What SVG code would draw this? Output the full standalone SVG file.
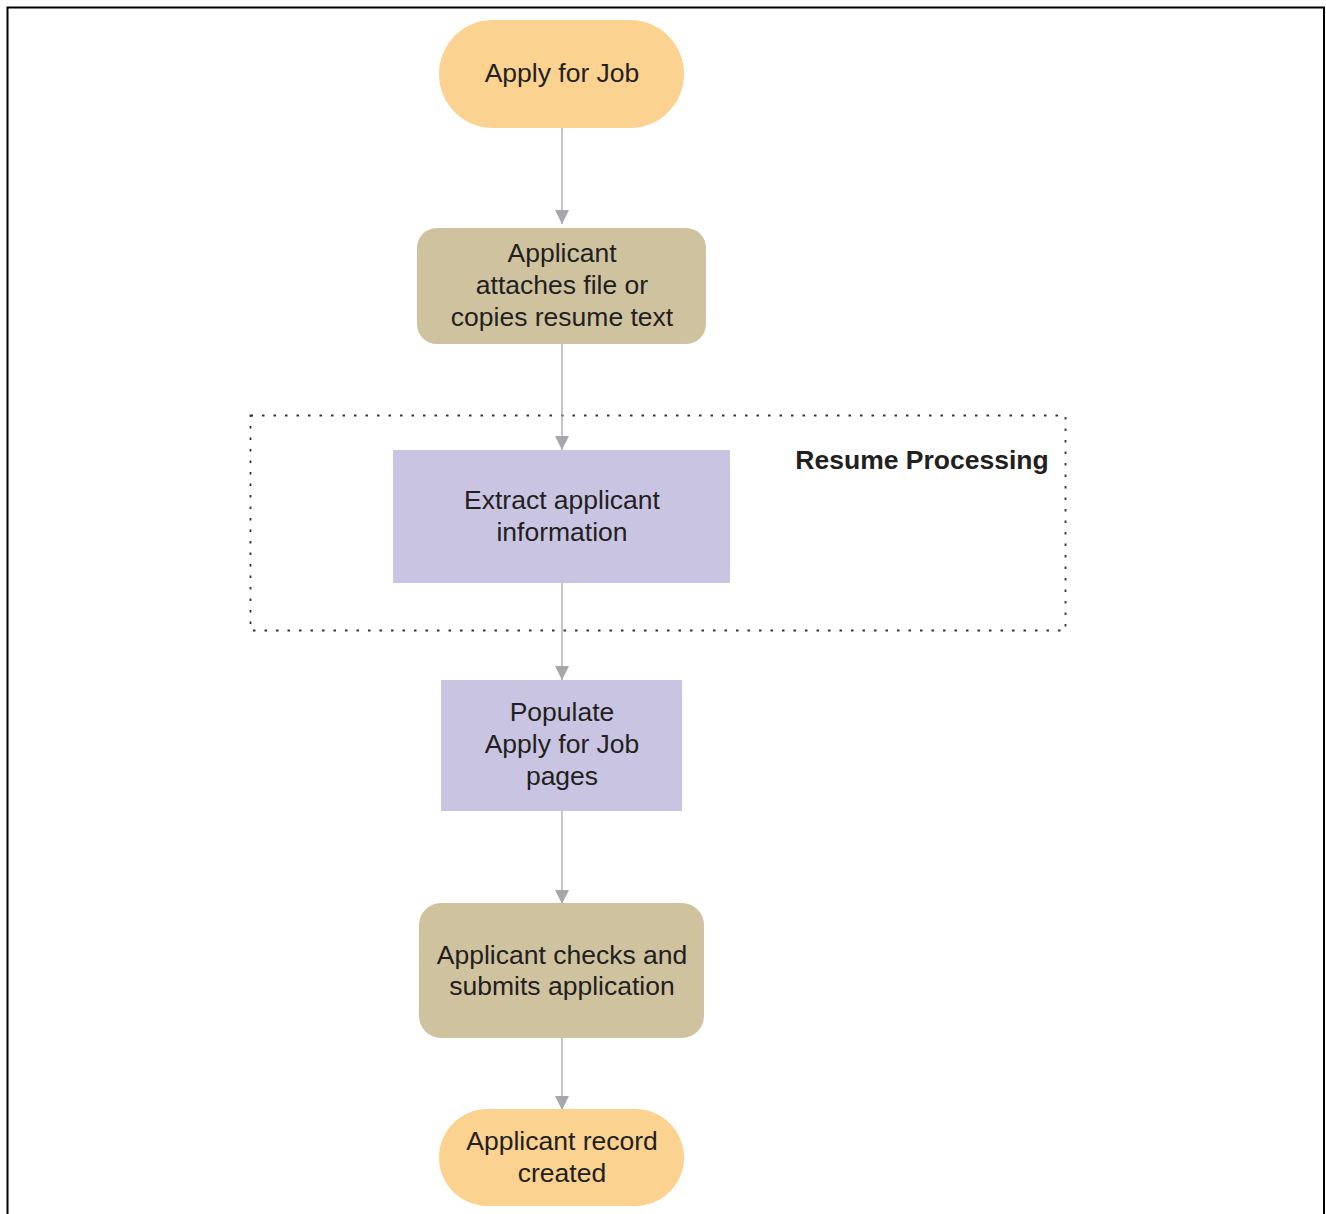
<svg xmlns="http://www.w3.org/2000/svg" width="1326" height="1214" viewBox="0 0 1326 1214">
<style>
text{font-family:"Liberation Sans",Arial,sans-serif;font-size:26.5px;fill:#231f20;text-anchor:middle}
.t{fill:#fbd28f}.a{fill:#cfc29f}.p{fill:#c8c4e2}
.c{stroke:#a7a7ab;stroke-width:1.3;fill:none}
</style>
<defs><marker id="ah" viewBox="0 0 14 14" markerWidth="14" markerHeight="14" refX="14" refY="7" orient="auto" markerUnits="userSpaceOnUse"><path d="M0,0L14,7L0,14z" fill="#a7a7ab"/></marker></defs>
<rect x="0" y="0" width="1326" height="1214" fill="#fff"/>
<path d="M7.5,1214V7.5H1324V1214" fill="none" stroke="#000" stroke-width="2"/>
<g id="group-resume">
<rect x="250.5" y="415.5" width="815" height="215" fill="none" stroke="#333" stroke-width="1.8" stroke-dasharray="2.5,9"/>
<text x="922" y="469" style="font-weight:bold">Resume Processing</text>
</g>
<g id="connectors">
<path class="c" d="M562,128V224" marker-end="url(#ah)"/>
<path class="c" d="M562,344V450" marker-end="url(#ah)"/>
<path class="c" d="M562,583V680" marker-end="url(#ah)"/>
<path class="c" d="M562,811V904" marker-end="url(#ah)"/>
<path class="c" d="M562,1038V1110" marker-end="url(#ah)"/>
</g>
<g id="n1"><rect class="t" x="439" y="20" width="245" height="108" rx="54"/><text x="562" y="82">Apply for Job</text></g>
<g id="n2"><rect class="a" x="417" y="228" width="289" height="116" rx="20"/><text x="562" y="262">Applicant</text><text x="562" y="294">attaches file or</text><text x="562" y="326">copies resume text</text></g>
<g id="n3"><rect class="p" x="393" y="450" width="337" height="133"/><text x="562" y="509">Extract applicant</text><text x="562" y="541">information</text></g>
<g id="n4"><rect class="p" x="441" y="680" width="241" height="131"/><text x="562" y="721">Populate</text><text x="562" y="753">Apply for Job</text><text x="562" y="785">pages</text></g>
<g id="n5"><rect class="a" x="419" y="903" width="285" height="135" rx="22"/><text x="562" y="964">Applicant checks and</text><text x="562" y="995">submits application</text></g>
<g id="n6"><rect class="t" x="439" y="1109" width="245" height="97" rx="48.5"/><text x="562" y="1150">Applicant record</text><text x="562" y="1182">created</text></g>
</svg>
